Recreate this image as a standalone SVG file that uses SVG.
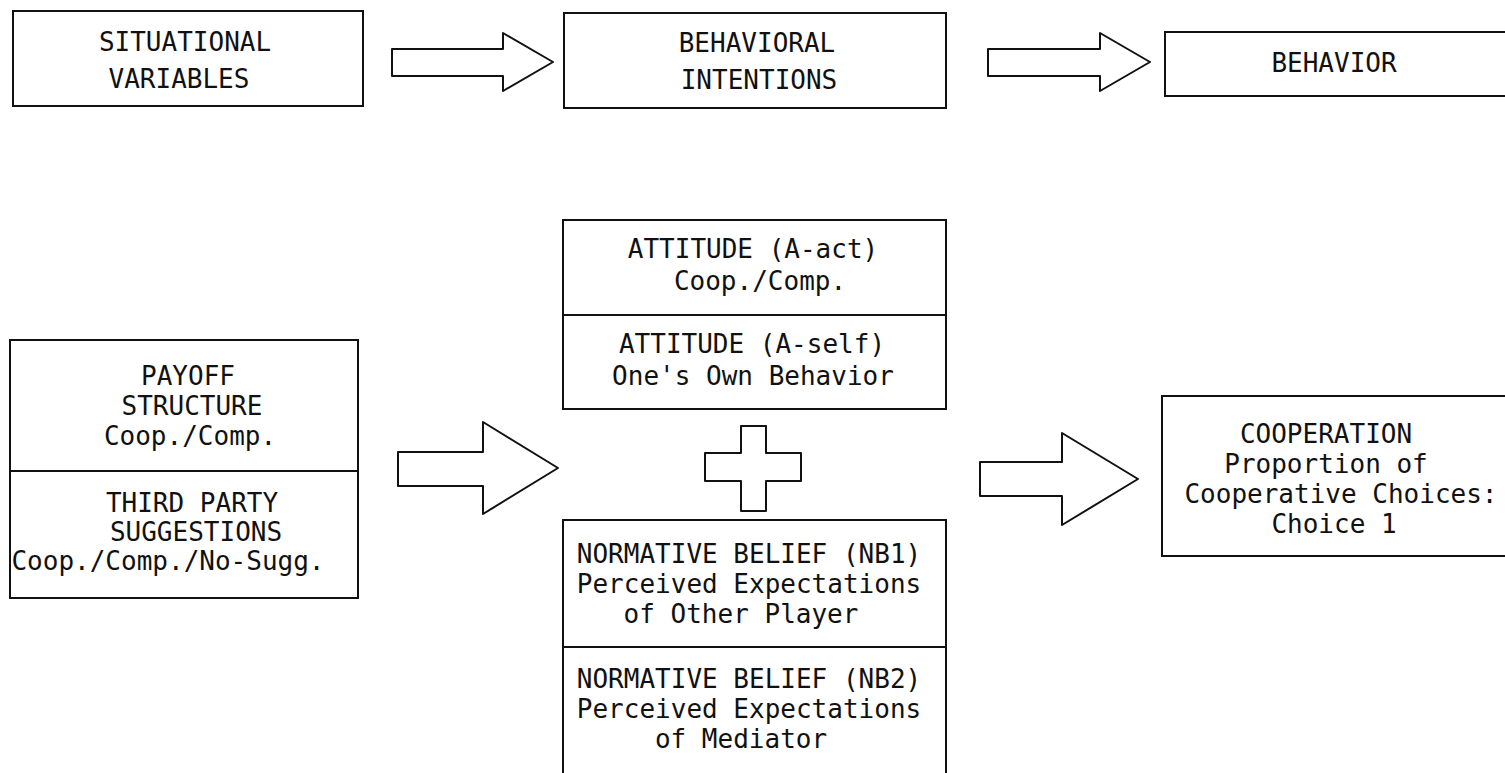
<svg xmlns="http://www.w3.org/2000/svg" width="1505" height="773" viewBox="0 0 1505 773">
<style>
.box{fill:none;stroke:#111;stroke-width:2}
.div{stroke:#111;stroke-width:2}
.arr{fill:#fff;stroke:#111;stroke-width:2;stroke-linejoin:round}
text{font-family:"DejaVu Sans Mono","Liberation Mono",monospace;font-size:26px;fill:#111;text-anchor:middle}
</style>
<rect width="1505" height="773" fill="#fff"/>
<g id="connectors">
<path class="arr" d="M392,49 L503,49 L503,33 L553,62 L503,91 L503,76 L392,76 Z"/>
<path class="arr" d="M988,49 L1100,49 L1100,33 L1150,62 L1100,91 L1100,76 L988,76 Z"/>
<path class="arr" d="M398,452 L483,452 L483,422 L558,468 L483,514 L483,486 L398,486 Z"/>
<path class="arr" d="M980,462 L1062,462 L1062,433 L1138,479 L1062,525 L1062,496 L980,496 Z"/>
</g>
<g id="situational">
<rect class="box" x="13" y="11" width="350" height="95"/>
<text x="185" y="51">SITUATIONAL</text>
<text x="179" y="88">VARIABLES</text>
</g>
<g id="intentions">
<rect class="box" x="564" y="13" width="382" height="95"/>
<text x="757" y="52">BEHAVIORAL</text>
<text x="759" y="89">INTENTIONS</text>
</g>
<g id="behavior">
<rect class="box" x="1165" y="32" width="350" height="64"/>
<text x="1334" y="72">BEHAVIOR</text>
</g>
<g id="situational-vars">
<rect class="box" x="10" y="340" width="348" height="258"/>
<line class="div" x1="10" y1="471" x2="358" y2="471"/>
<text x="188" y="385">PAYOFF</text>
<text x="192" y="415">STRUCTURE</text>
<text x="190" y="445">Coop./Comp.</text>
<text x="192" y="512">THIRD PARTY</text>
<text x="196" y="541">SUGGESTIONS</text>
<text x="168" y="570">Coop./Comp./No-Sugg.</text>
</g>
<g id="attitudes">
<rect class="box" x="563" y="220" width="383" height="189"/>
<line class="div" x1="563" y1="315" x2="946" y2="315"/>
<text x="753" y="258">ATTITUDE (A-act)</text>
<text x="760" y="290">Coop./Comp.</text>
<text x="752" y="353">ATTITUDE (A-self)</text>
<text x="753" y="385">One's Own Behavior</text>
</g>
<g id="plus">
<path class="arr" d="M741,426 L766,426 L766,453 L801,453 L801,481 L766,481 L766,511 L741,511 L741,481 L705,481 L705,453 L741,453 Z"/>
</g>
<g id="normative">
<path class="box" d="M563,780 L563,520 L946,520 L946,780"/>
<line class="div" x1="563" y1="647" x2="946" y2="647"/>
<text x="749" y="563">NORMATIVE BELIEF (NB1)</text>
<text x="749" y="593">Perceived Expectations</text>
<text x="741" y="623">of Other Player</text>
<text x="749" y="688">NORMATIVE BELIEF (NB2)</text>
<text x="749" y="718">Perceived Expectations</text>
<text x="741" y="748">of Mediator</text>
</g>
<g id="cooperation">
<rect class="box" x="1162" y="396" width="360" height="160"/>
<text x="1326" y="443">COOPERATION</text>
<text x="1326" y="473">Proportion of</text>
<text x="1341" y="503">Cooperative Choices:</text>
<text x="1334" y="533">Choice 1</text>
</g>
</svg>
